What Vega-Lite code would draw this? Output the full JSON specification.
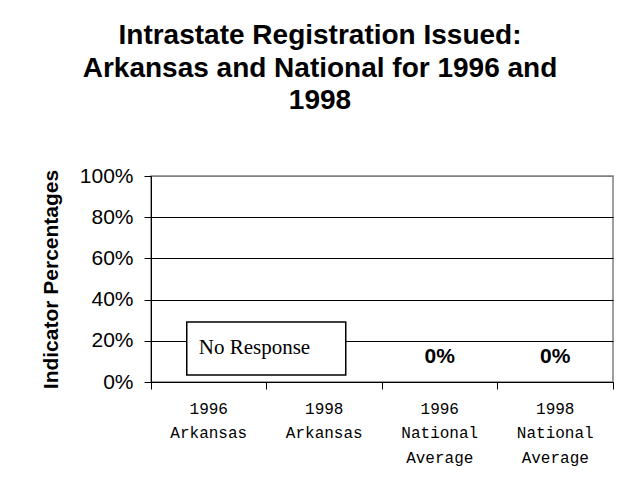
{
  "$schema": "https://vega.github.io/schema/vega-lite/v6.json",
  "autosize": {"type": "none"},
  "padding": {"left": 151, "top": 176, "right": 24, "bottom": 117},
  "width": 462,
  "height": 206,
  "background": "#ffffff",
  "title": {
    "text": ["Intrastate Registration Issued:", "Arkansas and National for 1996 and", "1998"],
    "font": "Liberation Sans",
    "fontSize": 28,
    "fontWeight": "bold",
    "color": "#000000",
    "lineHeight": 32.5,
    "anchor": "middle",
    "frame": "group",
    "dx": -62,
    "offset": 50
  },
  "datasets": {
    "bars": [
      {"group": "1996 Arkansas", "pct": null},
      {"group": "1998 Arkansas", "pct": null},
      {"group": "1996 National Average", "pct": 0},
      {"group": "1998 National Average", "pct": 0}
    ],
    "notes": [
      {"group": "1996 Arkansas", "note": "No Response"}
    ]
  },
  "resolve": {"axis": {"x": "independent"}},
  "layer": [
    {
      "data": {"name": "bars"},
      "mark": {"type": "bar", "color": "#000000"},
      "encoding": {
        "x": {
          "field": "group", "type": "nominal", "sort": null,
          "scale": {"domain": ["1996 Arkansas", "1998 Arkansas", "1996 National Average", "1998 National Average"], "paddingInner": 0, "paddingOuter": 0},
          "axis": {"orient": "bottom", "title": null, "labels": false, "ticks": true, "bandPosition": 0, "tickSize": 7, "tickColor": "#000000", "domain": true, "domainColor": "#000000", "grid": false}
        },
        "y": {
          "field": "pct", "type": "quantitative",
          "scale": {"domain": [0, 1], "nice": false},
          "title": "Indicator Percentages",
          "axis": {"gridColor": {"condition": {"test": "datum.value === 1", "value": "#808080"}, "value": "#000000"}}
        }
      }
    },
    {
      "data": {"name": "bars"},
      "transform": [{"filter": "datum.pct != null"}],
      "mark": {"type": "text", "font": "Liberation Sans", "fontSize": 21, "fontWeight": "bold", "color": "#000000", "baseline": "alphabetic", "dy": -19},
      "encoding": {
        "x": {
          "field": "group", "type": "nominal", "sort": null,
          "axis": {"orient": "bottom", "title": null, "ticks": false, "tickSize": 0, "domain": false, "grid": false, "labelExpr": "split(datum.label, ' ')", "labelFont": "Liberation Mono", "labelFontSize": 16, "labelColor": "#000000", "labelLineHeight": 24.5, "labelPadding": 18, "labelBaseline": "top", "labelAngle": 0}
        },
        "y": {"field": "pct", "type": "quantitative", "title": "Indicator Percentages"},
        "text": {"field": "pct", "type": "quantitative", "format": ".0%"}
      }
    },
    {
      "data": {"name": "notes"},
      "mark": {"type": "rect", "fill": "#ffffff", "stroke": "#000000", "strokeWidth": 1.5, "width": 159, "xOffset": 57.5},
      "encoding": {
        "x": {"field": "group", "type": "nominal", "sort": null, "axis": null},
        "y": {"datum": 0.034, "type": "quantitative", "title": "Indicator Percentages"},
        "y2": {"datum": 0.291}
      }
    },
    {
      "data": {"name": "notes"},
      "mark": {"type": "text", "font": "Liberation Serif", "fontSize": 21, "color": "#000000", "align": "left", "baseline": "middle", "dx": -10},
      "encoding": {
        "x": {
          "field": "group", "type": "nominal", "sort": null,
          "axis": {"orient": "bottom", "title": null, "values": ["1998 National Average"], "bandPosition": 1, "labels": false, "domain": false, "grid": false, "ticks": true, "tickSize": 7, "tickColor": "#000000"}
        },
        "y": {"datum": 0.165, "type": "quantitative", "title": "Indicator Percentages"},
        "text": {"field": "note"}
      }
    }
  ],
  "config": {
    "view": {"stroke": "#808080", "strokeWidth": 1.5},
    "axis": {"labelFlush": false, "labelOverlap": false},
    "axisY": {
      "values": [0, 0.2, 0.4, 0.6, 0.8, 1],
      "format": ".0%",
      "grid": true,
      "gridColor": "#000000",
      "gridOpacity": 1,
      "domainColor": "#000000",
      "tickColor": "#000000",
      "tickSize": 7,
      "labelPadding": 11,
      "labelFont": "Liberation Sans",
      "labelFontSize": 21,
      "labelColor": "#000000",
      "titleFont": "Liberation Sans",
      "titleFontSize": 21,
      "titleFontWeight": "bold",
      "titleColor": "#000000",
      "titlePadding": 18
    }
  }
}
